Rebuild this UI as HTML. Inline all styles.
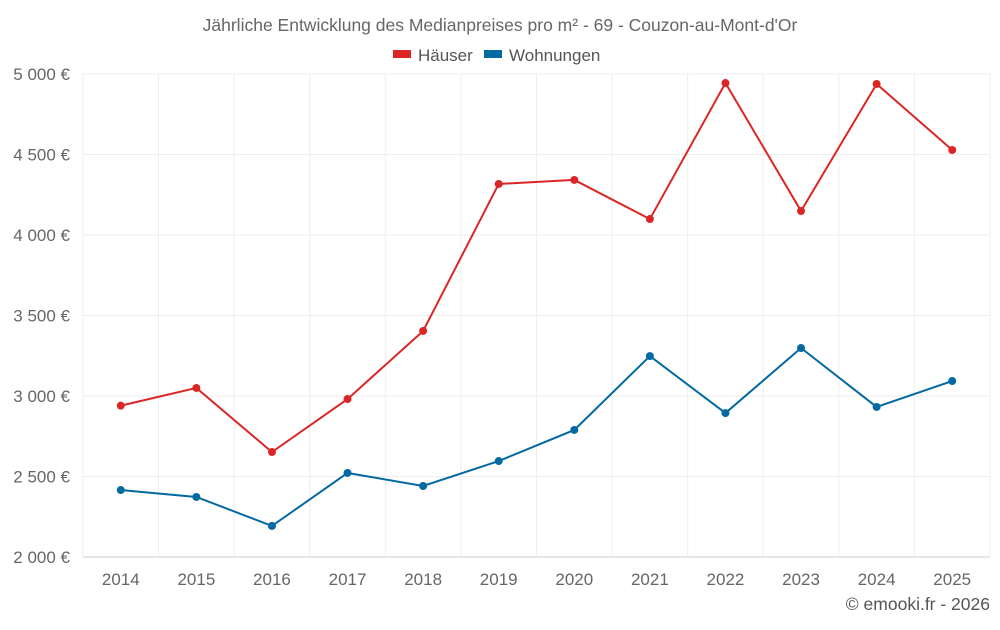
<!DOCTYPE html>
<html><head><meta charset="utf-8"><style>
body{margin:0;background:#fff;font-family:"Liberation Sans",sans-serif}
svg text{font-family:"Liberation Sans",sans-serif}
</style></head><body>
<svg id="c" width="1000" height="625">
<text x="500" y="31" text-anchor="middle" font-size="17.5" fill="#666">Jährliche Entwicklung des Medianpreises pro m² - 69 - Couzon-au-Mont-d'Or</text>
<g><rect x="393" y="50" width="18" height="8" fill="#dc2626"/><text x="418" y="61" font-size="17" fill="#555">Häuser</text></g>
<g><rect x="484" y="50" width="18" height="8" fill="#0369a1"/><text x="509" y="61" font-size="17" fill="#555">Wohnungen</text></g>
<g id="grid"></g><g id="axes"></g><g id="series"></g>
<text x="990" y="610" text-anchor="end" font-size="17.5" fill="#555">© emooki.fr - 2026</text>
</svg>
<script>
const years=["2014","2015","2016","2017","2018","2019","2020","2021","2022","2023","2024","2025"];
const haeuser=[2940,3050,2652,2981,3404,4317,4342,4099,4944,4149,4938,4528];
const wohnungen=[2416,2373,2193,2522,2441,2596,2789,3248,2894,3298,2932,3093];
const yTicks=[2000,2500,3000,3500,4000,4500,5000];
const yLabels=["2 000 €","2 500 €","3 000 €","3 500 €","4 000 €","4 500 €","5 000 €"];
const L=83,R=990,T=74,B=557,ymin=2000,ymax=5000;
const step=(R-L)/years.length;
const x=i=>L+step*(i+0.5);
const y=v=>B-(v-ymin)/(ymax-ymin)*(B-T);
const NS="http://www.w3.org/2000/svg";
function mk(t,a,p){const e=document.createElementNS(NS,t);for(const k in a)e.setAttribute(k,a[k]);p.appendChild(e);return e;}
const g=document.getElementById('grid'),ax=document.getElementById('axes'),s=document.getElementById('series');
yTicks.forEach((v,i)=>{
 const l=mk('line',{x1:L,x2:R,y1:y(v),y2:y(v),stroke:i==0?'#ccc':'#eee'},g);
 
 
 const t=mk('text',{x:70,y:y(v)+6,'text-anchor':'end','font-size':17,fill:'#666'},ax);t.textContent=yLabels[i];
 
 
});
for(let i=0;i<=years.length;i++){
 const l=mk('line',{x1:L+step*i,x2:L+step*i,y1:T,y2:B,stroke:'#eee'},g);
 
 
}
years.forEach((yr,i)=>{
 const t=mk('text',{x:x(i),y:585,'text-anchor':'middle','font-size':17,fill:'#666'},ax);t.textContent=yr;
 
 
});
[[haeuser,'#dc2626','haeuser'],[wohnungen,'#0369a1','wohnungen']].forEach(([d,c,n])=>{
 const p=mk('polyline',{points:d.map((v,i)=>x(i)+','+y(v)).join(' '),fill:'none',stroke:c,'stroke-width':2},s);
 
 
 d.forEach((v,i)=>{
  const ci=mk('circle',{cx:x(i),cy:y(v),r:4,fill:c},s);
  
  
 });
});
</script>
</body></html>
